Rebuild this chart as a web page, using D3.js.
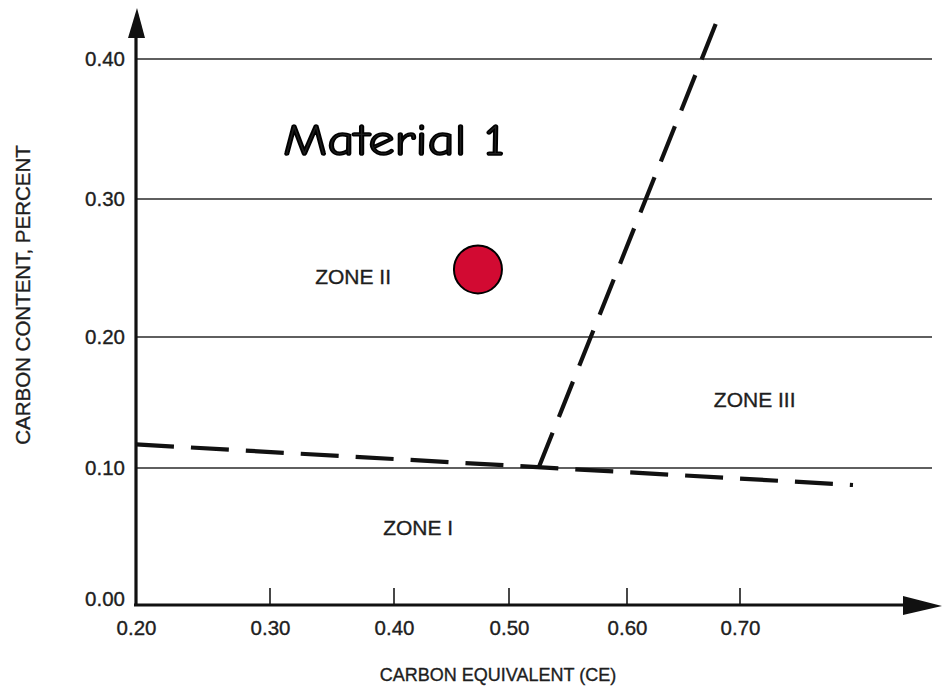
<!DOCTYPE html>
<html>
<head>
<meta charset="utf-8">
<script src="https://cdn.jsdelivr.net/npm/d3@7"></script>
<style>
  html, body { margin: 0; padding: 0; background: #ffffff; }
  svg { display: block; }
  text { font-family: "Liberation Sans", Arial, Helvetica, sans-serif; fill: #1e1e1e; }
  .scan { stroke: #1e1e1e; stroke-width: 0.35px; }
</style>
</head>
<body>
<script>
// ---- data ----
const xTicks = [0.20, 0.30, 0.40, 0.50, 0.60, 0.70];
const yTicks = [0.00, 0.10, 0.20, 0.30, 0.40];
const xTitle = "CARBON EQUIVALENT (CE)";
const yTitle = "CARBON CONTENT, PERCENT";
// Zone boundary (dashed) lines: [CE, carbon %]
const boundaryLow = [[0.20, 0.118], [0.80, 0.0875]];
const boundarySteep = [[0.525, 0.100], [0.679, 0.426]];
// Material point
const materialName = "Material 1";
const materialPoint = [0.473, 0.249];
const materialLabelAt = [0.40, 0.342];
// Zone labels
const zoneNames = ["ZONE I", "ZONE II", "ZONE III"];
const zoneCE = [0.421, 0.367, 0.713];
const zoneC = [0.056, 0.244, 0.152];

// ---- layout ----
const W = 942, H = 688;
const svg = d3.select("body").append("svg").attr("width", W).attr("height", H);

// scales (piecewise, following the scanned figure's uneven tick spacing)
const x = d3.scaleLinear().domain(xTicks).range([136, 270, 394, 509, 627, 740]);
const y = d3.scaleLinear().domain(yTicks).range([604, 468, 337, 199, 59]);

const x0 = x(0.20), y0 = y(0.00);

// horizontal grid lines
svg.append("g").selectAll("line").data(yTicks.slice(1)).join("line")
  .attr("x1", x0).attr("x2", 932)
  .attr("y1", d => y(d)).attr("y2", d => y(d))
  .attr("stroke", "#2a2a2a").attr("stroke-width", 1.6);

// x axis with ticks (ticks point up into the plot)
const xAxis = d3.axisBottom(x).tickValues(xTicks).tickFormat(d3.format(".2f")).tickSize(0).tickPadding(16);
const gx = svg.append("g").attr("transform", `translate(0,${y0})`).call(xAxis);
gx.select(".domain").remove();
gx.selectAll("text").attr("class", "scan").style("font-size", "20.5px").attr("fill", "#1e1e1e")
  .style("font-family", '"Liberation Sans", Arial, sans-serif');
svg.append("g").selectAll("line").data(xTicks.slice(1)).join("line")
  .attr("x1", d => x(d)).attr("x2", d => x(d))
  .attr("y1", y0).attr("y2", y0 - 16)
  .attr("stroke", "#1a1a1a").attr("stroke-width", 1.6);

// y axis labels
const yAxis = d3.axisLeft(y).tickValues(yTicks).tickFormat(d3.format(".2f")).tickSize(0).tickPadding(11);
const gy = svg.append("g").attr("transform", `translate(${x0},0)`).call(yAxis);
gy.select(".domain").remove();
gy.selectAll("text").attr("class", "scan").style("font-size", "20.5px").attr("fill", "#1e1e1e")
  .style("font-family", '"Liberation Sans", Arial, sans-serif');
gy.selectAll(".tick").filter(d => d === 0).select("text").attr("dy", "0.05em");

// axis lines with arrowheads
svg.append("line").attr("x1", x0).attr("x2", x0).attr("y1", y0 + 2).attr("y2", 30)
  .attr("stroke", "#111").attr("stroke-width", 3.2);
svg.append("path").attr("d", `M${x0 + 1},8 L${x0 - 8},38 L${x0 + 9},38 Z`).attr("fill", "#111");
svg.append("line").attr("x1", x0 - 2).attr("x2", 910).attr("y1", y0 + 1).attr("y2", y0 + 1)
  .attr("stroke", "#111").attr("stroke-width", 3.2);
svg.append("path").attr("d", `M942,${y0 + 2} L903,${y0 - 8} L903,${y0 + 11} Z`).attr("fill", "#111");

// dashed boundaries
const line = d3.line().x(d => x(d[0])).y(d => y(d[1]));
[boundaryLow, boundarySteep].forEach(pts => {
  svg.append("path").attr("d", line(pts))
    .attr("fill", "none").attr("stroke", "#111").attr("stroke-width", 4.2)
    .attr("stroke-dasharray", "38,17").attr("stroke-linecap", "butt");
});

// zone labels
svg.append("g").selectAll("text").data(zoneNames).join("text")
  .attr("class", "scan")
  .attr("x", (d, i) => x(zoneCE[i])).attr("y", (d, i) => y(zoneC[i]))
  .attr("text-anchor", "middle").attr("dominant-baseline", "central")
  .style("font-size", "21px").text(d => d);

// axis titles
svg.append("text").attr("class", "scan").attr("x", 498).attr("y", 675)
  .attr("text-anchor", "middle").attr("dominant-baseline", "central")
  .style("font-size", "18px").text(xTitle);
svg.append("text").attr("class", "scan").attr("transform", "translate(22,295) rotate(-90)")
  .attr("text-anchor", "middle").attr("dominant-baseline", "central")
  .style("font-size", "20.5px").text(yTitle);

// material label and point
svg.append("text").attr("x", x(materialLabelAt[0])).attr("y", y(materialLabelAt[1]))
  .attr("text-anchor", "middle").attr("dominant-baseline", "central")
  .attr("textLength", 222).attr("lengthAdjust", "spacingAndGlyphs")
  .style("font-family", '"Comic Sans MS", "Comic Neue", "DejaVu Sans", sans-serif')
  .style("font-size", "44px").attr("fill", "#000")
  .attr("stroke", "#000").attr("stroke-width", 1.6)
  .text(materialName);

svg.append("circle").attr("cx", x(materialPoint[0])).attr("cy", y(materialPoint[1]))
  .attr("r", 24).attr("fill", "#d20a32").attr("stroke", "#000").attr("stroke-width", 2);
</script>
</body>
</html>
